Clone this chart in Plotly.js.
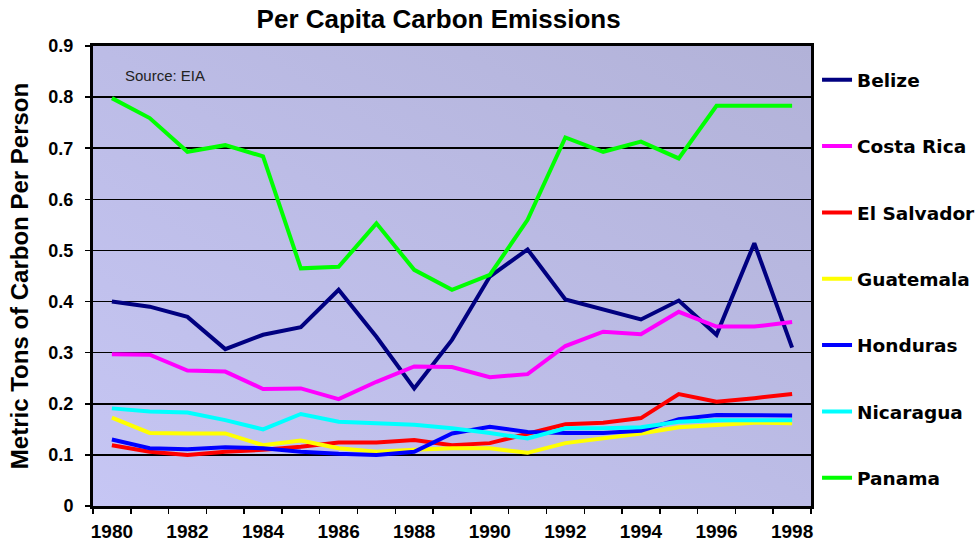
<!DOCTYPE html>
<html>
<head>
<meta charset="utf-8">
<script src="https://cdn.plot.ly/plotly-3.0.1.min.js"></script>
<style>
  html, body { margin: 0; padding: 0; background: #ffffff; }
  #chart { width: 977px; height: 543px; }
</style>
</head>
<body>
<div id="chart"></div>
<script>
// ---- data ----
const years = [1980,1981,1982,1983,1984,1985,1986,1987,1988,1989,1990,1991,1992,1993,1994,1995,1996,1997,1998];
const xTickYears = [1980,1982,1984,1986,1988,1990,1992,1994,1996,1998];
const countries = ["Belize","Costa Rica","El Salvador","Guatemala","Honduras","Nicaragua","Panama"];
const belize     = [0.400,0.390,0.370,0.307,0.335,0.350,0.423,0.331,0.230,0.325,0.449,0.502,0.404,0.385,0.365,0.402,0.335,0.514,0.310];
const costaRica  = [0.297,0.296,0.265,0.263,0.229,0.230,0.209,0.243,0.273,0.272,0.252,0.258,0.313,0.341,0.336,0.380,0.351,0.351,0.360];
const elSalvador = [0.119,0.106,0.100,0.106,0.110,0.116,0.124,0.124,0.129,0.119,0.123,0.142,0.160,0.163,0.172,0.219,0.204,0.211,0.219];
const guatemala  = [0.173,0.143,0.142,0.142,0.119,0.128,0.113,0.106,0.110,0.113,0.113,0.104,0.123,0.132,0.142,0.154,0.159,0.163,0.162];
const honduras   = [0.130,0.113,0.111,0.115,0.113,0.106,0.102,0.100,0.106,0.142,0.155,0.145,0.143,0.143,0.147,0.170,0.178,0.178,0.177];
const nicaragua  = [0.191,0.185,0.183,0.168,0.150,0.180,0.165,0.162,0.159,0.152,0.143,0.132,0.152,0.152,0.154,0.165,0.168,0.168,0.168];
const panama     = [0.798,0.759,0.693,0.706,0.684,0.465,0.468,0.553,0.462,0.423,0.452,0.560,0.721,0.693,0.713,0.680,0.783,0.783,0.783];

const seriesValues = [belize, costaRica, elSalvador, guatemala, honduras, nicaragua, panama];
const seriesColors = ["#000080","#FF00FF","#FF0000","#FFFF00","#0000FF","#00FFFF","#00FF00"];

const FONT = "Liberation Sans, Arial, sans-serif";
const LEGFONT = "DejaVu Sans, Verdana, sans-serif";

const traces = countries.map((name, i) => ({
  type: "scatter",
  mode: "lines",
  name: name,
  x: years,
  y: seriesValues[i],
  line: { color: seriesColors[i], width: 4 },
  legendgroup: "g" + i,
  hoverinfo: "x+y+name"
}));

const gradSvg = '<svg xmlns="http://www.w3.org/2000/svg" width="100" height="100" preserveAspectRatio="none">' +
  '<defs><linearGradient id="g" x1="0" y1="1" x2="1" y2="0">' +
  '<stop offset="0" stop-color="#c6c6f4"/><stop offset="1" stop-color="#b2b2d8"/>' +
  '</linearGradient></defs><rect width="100" height="100" fill="url(#g)"/></svg>';
const gradUri = "data:image/svg+xml;charset=utf-8," + encodeURIComponent(gradSvg);

const layout = {
  width: 977,
  height: 543,
  margin: { l: 93, r: 166, t: 46, b: 37, pad: 0, autoexpand: false },
  paper_bgcolor: "#ffffff",
  plot_bgcolor: "rgba(0,0,0,0)",
  showlegend: true,
  title: {
    text: "<b>Per Capita Carbon Emissions</b>",
    font: { family: FONT, size: 26, color: "#000000" },
    xref: "container", x: 0.449, xanchor: "center",
    yref: "container", y: 0.965, yanchor: "middle"
  },
  xaxis: {
    range: [1979.5, 1998.5],
    tickvals: xTickYears,
    ticktext: xTickYears.map(String),
    ticks: "",
    ticklabelstandoff: 6,
    tickfont: { family: FONT, size: 19, color: "#000000", weight: "bold" },
    showgrid: false,
    zeroline: false,
    showline: true,
    linecolor: "#000000",
    linewidth: 3,
    mirror: true,
    fixedrange: true,
    minor: { tick0: 1979.5, dtick: 1, ticks: "outside", ticklen: 5, tickwidth: 1.5, tickcolor: "#000000", showgrid: false }
  },
  yaxis: {
    range: [0, 0.9],
    dtick: 0.1,
    tick0: 0,
    ticks: "outside",
    ticklen: 5,
    tickwidth: 1.5,
    tickcolor: "#000000",
    ticklabelstandoff: 8,
    tickfont: { family: FONT, size: 18, color: "#000000", weight: "bold" },
    showgrid: true,
    gridcolor: "#000000",
    gridwidth: 1.6,
    zeroline: false,
    showline: true,
    linecolor: "#000000",
    linewidth: 3,
    mirror: true,
    fixedrange: true,
    title: {
      text: "<b>Metric Tons of Carbon Per Person</b>",
      font: { family: FONT, size: 24, color: "#000000" },
      standoff: 13
    }
  },
  legend: {
    x: 1.0084, xanchor: "left",
    y: 0.967, yanchor: "top",
    bgcolor: "rgba(0,0,0,0)",
    borderwidth: 0,
    font: { family: LEGFONT, size: 18.5, color: "#000000", weight: "bold" },
    tracegroupgap: 39.3,
    itemwidth: 30
  },
  annotations: [{
    text: "Source: EIA",
    xref: "paper", yref: "paper",
    x: 0.042, y: 0.935, xanchor: "left", yanchor: "middle",
    showarrow: false,
    font: { family: FONT, size: 15, color: "#222222" }
  }],
  images: [{
    source: gradUri,
    xref: "paper", yref: "paper",
    x: 0, y: 1, sizex: 1, sizey: 1,
    xanchor: "left", yanchor: "top",
    sizing: "stretch", layer: "below"
  }]
};

Plotly.newPlot("chart", traces, layout, { staticPlot: true, displayModeBar: false });
</script>
</body>
</html>
